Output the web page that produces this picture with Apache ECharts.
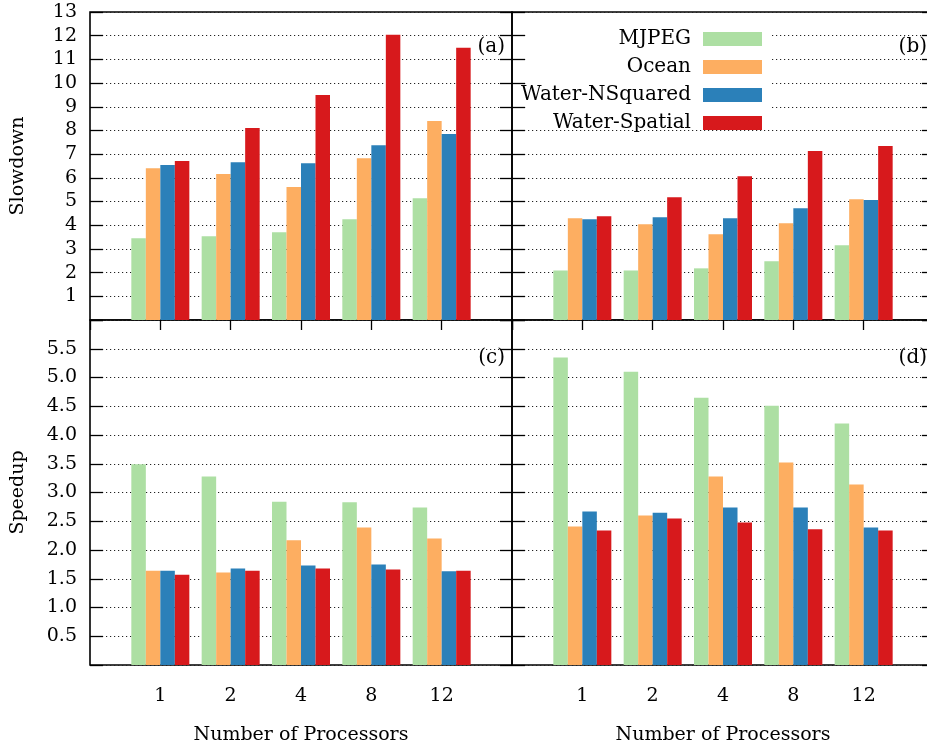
<!DOCTYPE html>
<html>
<head>
<meta charset="utf-8">
<script src="https://cdn.jsdelivr.net/npm/echarts@6/dist/echarts.min.js"></script>
<style>html,body{margin:0;padding:0;background:#fff}#c{width:927px;height:749px}</style>
</head>
<body>
<div id="c"></div>
<script>
const categories = ['1', '2', '4', '8', '12'];
const seriesNames = ['MJPEG', 'Ocean', 'Water-NSquared', 'Water-Spatial'];
const panelLabels = ['(a)', '(b)', '(c)', '(d)'];
const slowdownTicks = [1,2,3,4,5,6,7,8,9,10,11,12,13];
const speedupTicks = ['0.5','1.0','1.5','2.0','2.5','3.0','3.5','4.0','4.5','5.0','5.5'];

// (a) Slowdown
const slowA_mjpeg   = [3.45, 3.53, 3.70, 4.25, 5.14];
const slowA_ocean   = [6.41, 6.16, 5.61, 6.83, 8.40];
const slowA_nsq     = [6.54, 6.66, 6.62, 7.38, 7.85];
const slowA_spatial = [6.71, 8.10, 9.50, 12.04, 11.49];
// (b) Slowdown
const slowB_mjpeg   = [2.09, 2.09, 2.18, 2.48, 3.15];
const slowB_ocean   = [4.29, 4.04, 3.62, 4.08, 5.10];
const slowB_nsq     = [4.25, 4.34, 4.29, 4.72, 5.06];
const slowB_spatial = [4.38, 5.18, 6.07, 7.13, 7.34];
// (c) Speedup
const speedC_mjpeg   = [3.49, 3.28, 2.84, 2.83, 2.74];
const speedC_ocean   = [1.64, 1.61, 2.17, 2.39, 2.20];
const speedC_nsq     = [1.64, 1.68, 1.73, 1.75, 1.63];
const speedC_spatial = [1.57, 1.64, 1.68, 1.66, 1.64];
// (d) Speedup
const speedD_mjpeg   = [5.35, 5.10, 4.65, 4.51, 4.20];
const speedD_ocean   = [2.41, 2.60, 3.28, 3.52, 3.14];
const speedD_nsq     = [2.67, 2.65, 2.74, 2.74, 2.39];
const speedD_spatial = [2.34, 2.55, 2.48, 2.36, 2.34];

const panels = [
  [slowA_mjpeg, slowA_ocean, slowA_nsq, slowA_spatial],
  [slowB_mjpeg, slowB_ocean, slowB_nsq, slowB_spatial],
  [speedC_mjpeg, speedC_ocean, speedC_nsq, speedC_spatial],
  [speedD_mjpeg, speedD_ocean, speedD_nsq, speedD_spatial]
];

const colors = ['#addfa3', '#fdae61', '#2b80b9', '#d7191c'];
const FONT = 'DejaVu Serif';
const grids = [
  {left: 90, top: 12, width: 422, height: 308},
  {left: 512, top: 12, width: 422, height: 308},
  {left: 90, top: 320, width: 422, height: 345},
  {left: 512, top: 320, width: 422, height: 345}
];

const axisCats = [''].concat(categories, ['']);
const xAxes = [], yAxes = [], series = [];
grids.forEach((g, p) => {
  g.show = true; g.borderColor = '#000'; g.borderWidth = 1.6; g.containLabel = false;
  g.outerBoundsMode = 'none';
  const top = p < 2;
  xAxes.push({
    type: 'category', gridIndex: p, data: axisCats, boundaryGap: false,
    axisLine: {show: false},
    axisTick: {show: top, inside: false, length: 10, lineStyle: {color: '#000', width: 1.3}},
    axisLabel: {show: !top, margin: 22, fontFamily: FONT, fontSize: 19, color: '#000', interval: 0},
    splitLine: {show: false},
    name: top ? '' : 'Number of Processors', nameLocation: 'middle', nameGap: 61,
    nameTextStyle: {fontFamily: FONT, fontSize: 19, color: '#000'}
  });
  const ymax = top ? 13 : 6;
  const step = top ? 1 : 0.5;
  const left = (p % 2 === 0);
  yAxes.push({
    type: 'value', gridIndex: p, min: 0, max: ymax, interval: step, position: 'left',
    axisLine: {show: false},
    axisTick: {show: true, inside: true, length: 13, lineStyle: {color: '#000', width: 1.3}},
    axisLabel: {
      show: left, margin: 13, fontFamily: FONT, fontSize: 19, color: '#000',
      formatter: v => {
        if (top) { const i = slowdownTicks.indexOf(v); return i >= 0 ? String(slowdownTicks[i]) : ''; }
        const s = v.toFixed(1); return speedupTicks.indexOf(s) >= 0 ? s : '';
      }
    },
    splitLine: {show: true, lineStyle: {color: '#222', width: 1, type: [1.2, 2.8]}},
    name: left ? (top ? 'Slowdown' : 'Speedup') : '', nameLocation: 'middle', nameGap: 62,
    nameTextStyle: {fontFamily: FONT, fontSize: 19, color: '#000'}
  });
  yAxes.push({
    type: 'value', gridIndex: p, min: 0, max: ymax, interval: step, position: 'right',
    axisLine: {show: false},
    axisTick: {show: true, inside: true, length: 12, lineStyle: {color: '#000', width: 1.3}},
    axisLabel: {show: false}, splitLine: {show: false}
  });
  panels[p].forEach((vals, s) => {
    series.push({
      type: 'bar', name: seriesNames[s], xAxisIndex: p, yAxisIndex: 2 * p,
      data: [null].concat(vals, [null]),
      barWidth: 14.5, barGap: '0%',
      itemStyle: {color: colors[s]},
      emphasis: {disabled: true}
    });
  });
});

const graphics = panelLabels.map((t, p) => ({
  type: 'text', z: 100,
  x: grids[p].left + grids[p].width - 7,
  y: grids[p].top + (p < 2 ? 35 : 38),
  style: {text: t, align: 'right', verticalAlign: 'middle', font: '20px "DejaVu Serif"', fill: '#000'}
}));
// white box behind the legend, hiding the grid lines there
graphics.push({
  type: 'rect', z: 1, silent: true,
  shape: {x: 526, y: 20, width: 246, height: 100},
  style: {fill: '#fff'}
});

const chart = echarts.init(document.getElementById('c'), null, {renderer: 'canvas'});
chart.setOption({
  animation: false,
  backgroundColor: '#fff',
  grid: grids,
  xAxis: xAxes,
  yAxis: yAxes,
  series: series,
  legend: {
    data: seriesNames, orient: 'vertical', align: 'right',
    right: 165, top: 29, padding: 0, itemGap: 8,
    itemWidth: 59, itemHeight: 14, icon: 'rect',
    textStyle: {fontFamily: FONT, fontSize: 20, color: '#000', padding: [0, 7, 0, 0]},
    selectedMode: false, z: 10
  },
  graphic: graphics
});
</script>
</body>
</html>
